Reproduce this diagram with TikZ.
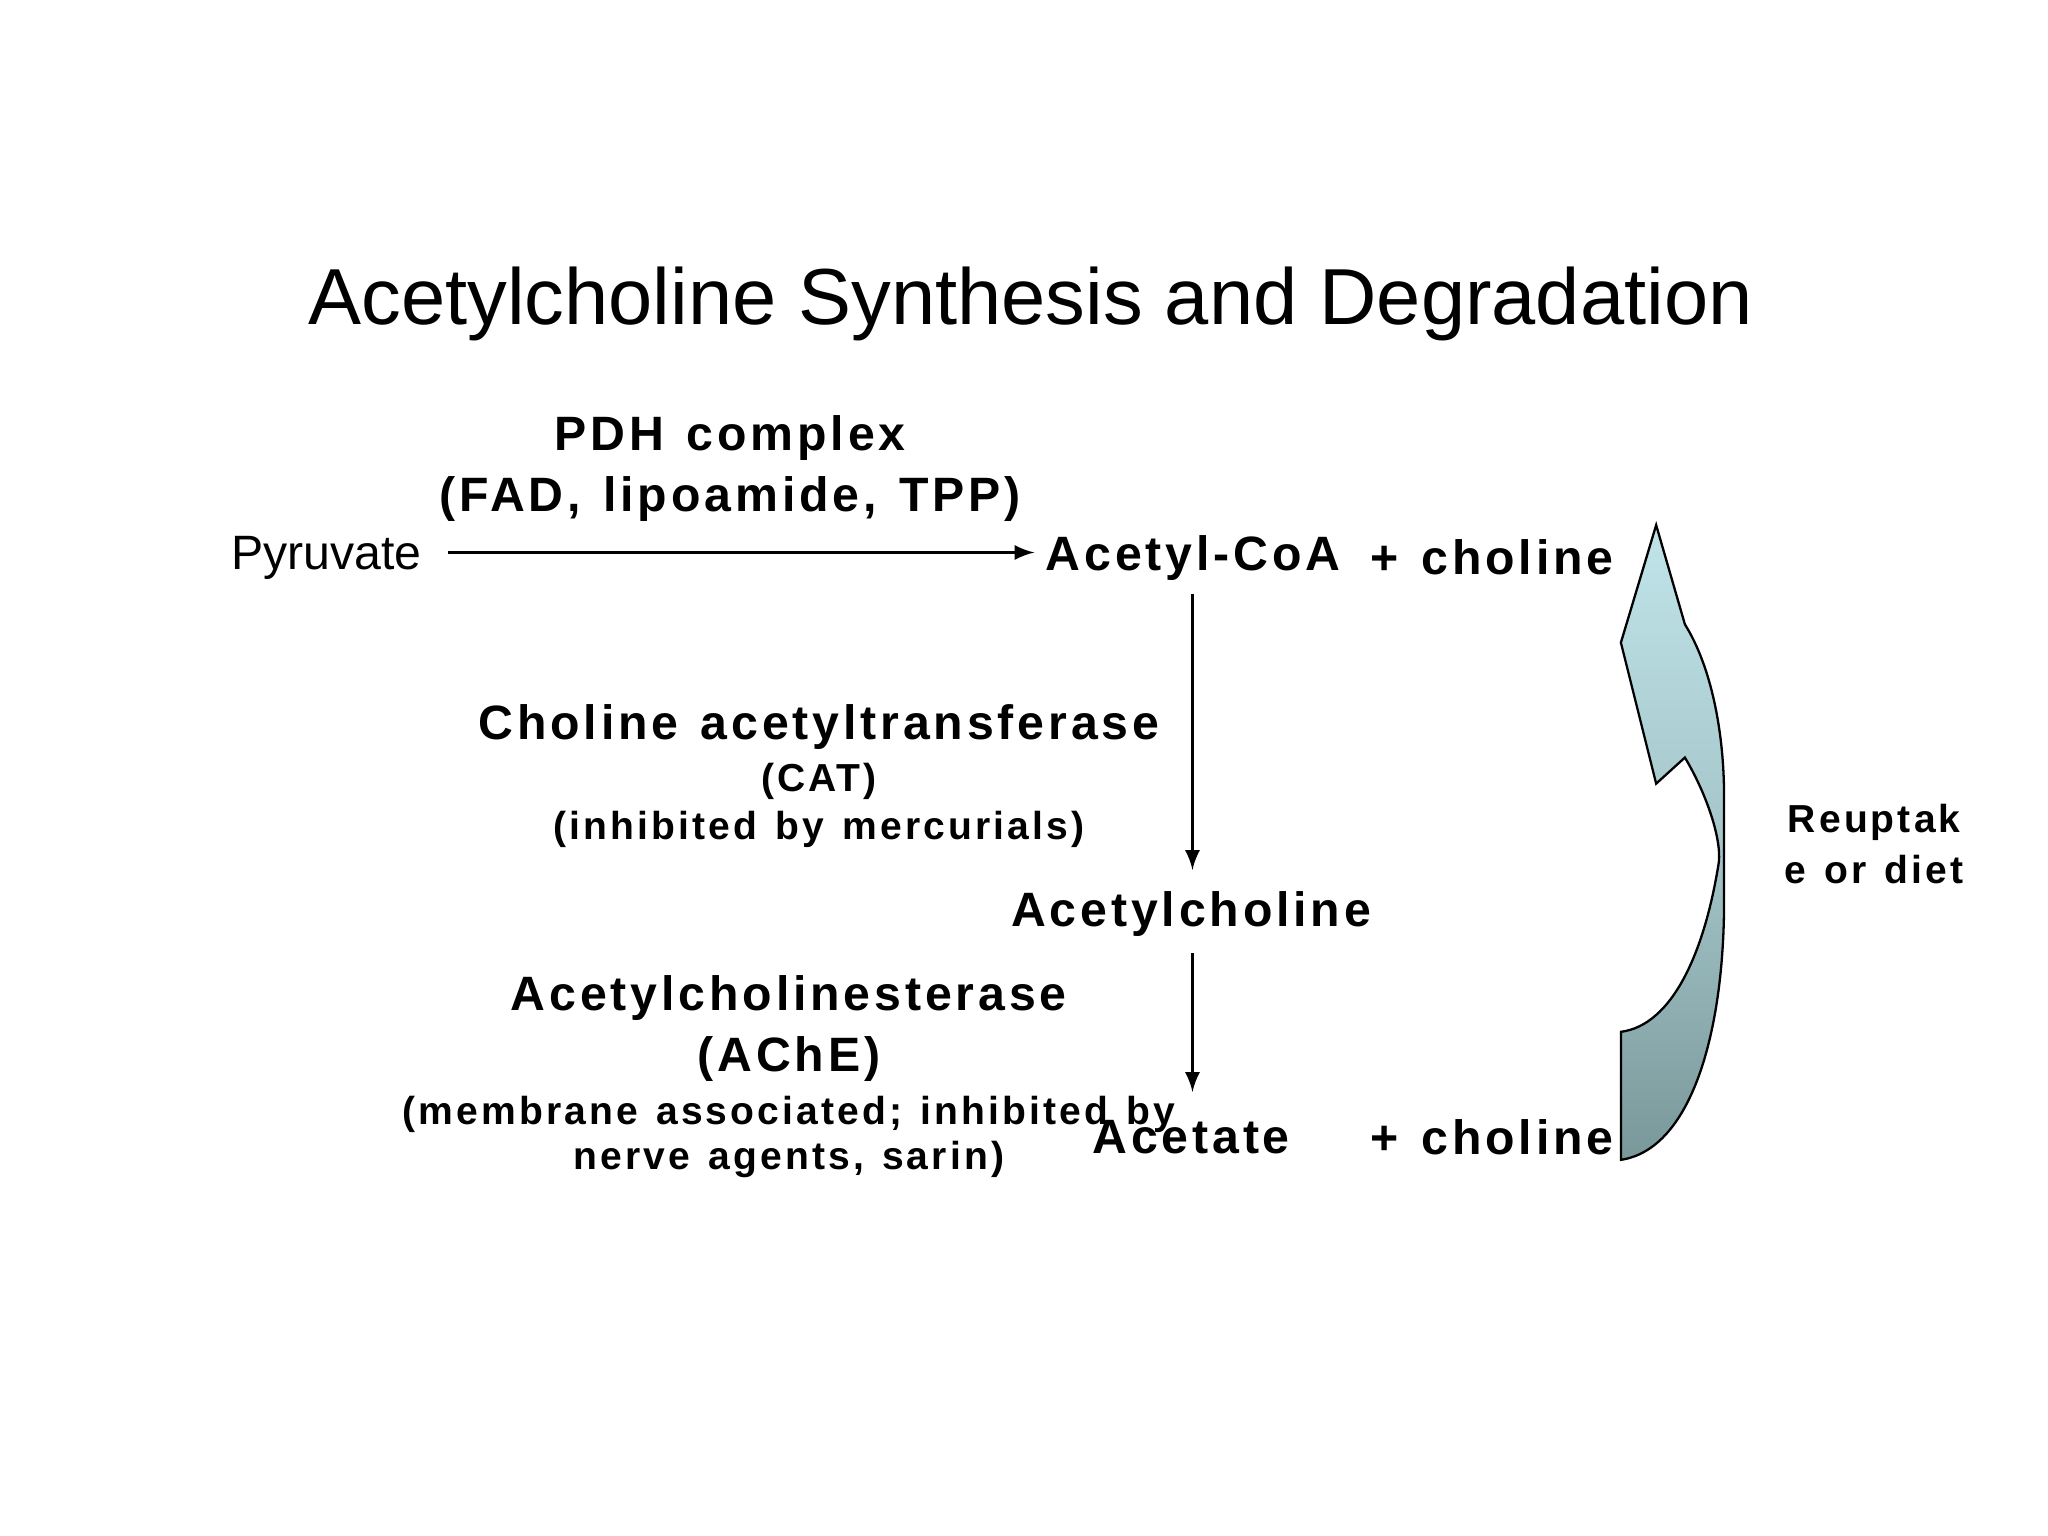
\documentclass[tikz,border=0pt]{standalone}
\usepackage{fontspec}
\setmainfont{Liberation Sans}
\newfontfamily\bsp[LetterSpace=8,WordSpace=1.3]{Liberation Sans}
\definecolor{toptl}{RGB}{192,228,233}
\definecolor{bottl}{RGB}{122,152,154}
\begin{document}
\begin{tikzpicture}[x=0.01cm,y=-0.01cm,
  bt/.style={font=\bsp\bfseries\fontsize{10.5}{12}\selectfont, inner sep=0pt, anchor=center},
  st/.style={font=\bsp\bfseries\fontsize{8.5}{10}\selectfont, inner sep=0pt},
  ar/.style={-latex, line width=0.5pt}]
\useasboundingbox (0,0) rectangle (1568,1176);
\node[font=\fontsize{17.3}{21}\selectfont] (title) at (789,233) {Acetylcholine Synthesis and Degradation};
\node[font=\fontsize{10.5}{12}\selectfont, inner sep=0pt] (pyr) at (250,427) {Pyruvate};
\node[bt] (pdh1) at (559,335) {PDH complex};
\node[bt] (pdh2) at (559,382) {(FAD, lipoamide, TPP)};
\node[bt, anchor=west] (acoa) at (800,427) {Acetyl-CoA};
\node[bt, anchor=east] (ch1) at (1236,427) {+ choline};
\coordinate (a1s) at (343,423); \coordinate (a1e) at (792,423);
\draw[ar] (a1s) -- (a1e);
\coordinate (v1s) at (913,455); \coordinate (v1e) at (913,666);
\draw[ar] (v1s) -- (v1e);
\node[bt] (cat1) at (627,557) {Choline acetyltransferase};
\node[st] (cat2) at (627,598) {(CAT)};
\node[st] (cat3) at (627,635) {(inhibited by mercurials)};
\node[bt] (ach) at (912,700) {Acetylcholine};
\coordinate (v2s) at (913,730); \coordinate (v2e) at (913,836);
\draw[ar] (v2s) -- (v2e);
\node[bt] (e1) at (604,764) {Acetylcholinesterase};
\node[bt] (e2) at (604,811) {(AChE)};
\node[st] (e3) at (604,853) {(membrane associated; inhibited by};
\node[st] (e4) at (604,888) {nerve agents, sarin)};
\node[bt] (act) at (912,871) {Acetate};
\node[bt, anchor=east] (ch2) at (1236,871) {+ choline};
\node[st] (r1) at (1435,630) {Reuptak};
\node[st] (r2) at (1435,666) {e or diet};
\shade[top color=toptl, bottom color=bottl, middle color=toptl!60!bottl, draw=black, line width=0.5pt]
  (1241,888) .. controls (1295,880) and (1320,790) .. (1320,690)
  -- (1320,610) .. controls (1320,560) and (1310,510) .. (1290,478)
  -- (1268,402) -- (1241,492) -- (1268,600) -- (1290,580)
  .. controls (1305,605) and (1318,640) .. (1316,660)
  .. controls (1305,730) and (1280,785) .. (1241,790) -- cycle;
\end{tikzpicture}
\end{document}
